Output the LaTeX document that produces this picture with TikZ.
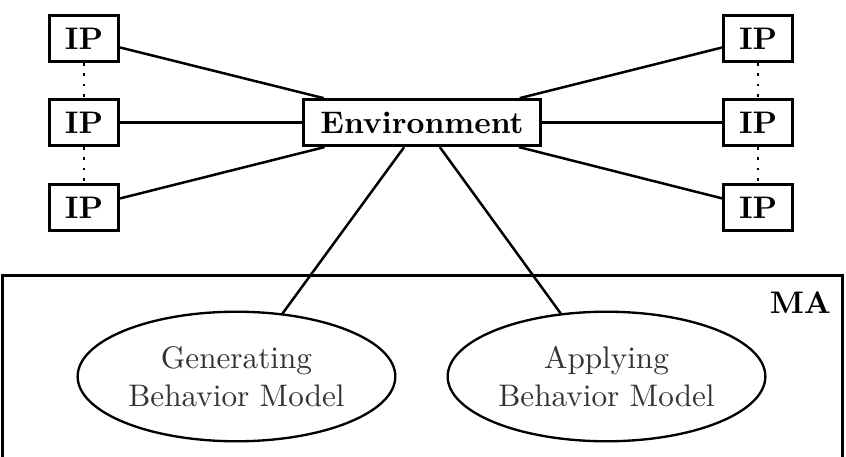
\documentclass[tikz,border=0pt]{standalone}
\usepackage{tikz}
\usetikzlibrary{shapes.geometric}

\begin{document}
\begin{tikzpicture}[
  ip/.style={draw,line width=0.9pt,minimum width=0.78cm,minimum height=0.52cm,inner sep=0pt,font=\bfseries},
  envbox/.style={ip,minimum width=2.67cm},
  model/.style={draw,ellipse,line width=0.75pt,minimum width=3.58cm,minimum height=1.46cm,align=center,inner sep=0pt,text=black!80},
  link/.style={line width=0.8pt},
  chain/.style={line width=0.9pt,dash pattern=on 0.9pt off 2.4pt}]
\useasboundingbox (0,0) rectangle (9.534,5.139);
\clip (0,0) rectangle (9.534,5.139);
\draw[line width=0.9pt] (0.025,-0.3) rectangle (9.49,2.03);
\node[font=\bfseries] (ma) at (9.02,1.73) {MA};
\node[ip] (ipl1) at (0.947,4.705) {IP};
\node[ip] (ipl2) at (0.947,3.757) {IP};
\node[ip] (ipl3) at (0.947,2.801) {IP};
\node[ip] (ipr1) at (8.543,4.705) {IP};
\node[ip] (ipr2) at (8.543,3.757) {IP};
\node[ip] (ipr3) at (8.543,2.801) {IP};
\node[envbox] (env) at (4.756,3.757) {Environment};
\node[model] (gen) at (2.665,0.896) {Generating\\Behavior Model};
\node[model] (app) at (6.835,0.896) {Applying\\Behavior Model};
\draw[chain] (ipl1)--(ipl2);
\draw[chain] (ipl2)--(ipl3);
\draw[chain] (ipr1)--(ipr2);
\draw[chain] (ipr2)--(ipr3);
\draw[link] (ipl1)--(env);
\draw[link] (ipl2)--(env);
\draw[link] (ipl3)--(env);
\draw[link] (ipr1)--(env);
\draw[link] (ipr2)--(env);
\draw[link] (ipr3)--(env);
\draw[link] (env)--(gen);
\draw[link] (env)--(app);
\end{tikzpicture}
\end{document}
